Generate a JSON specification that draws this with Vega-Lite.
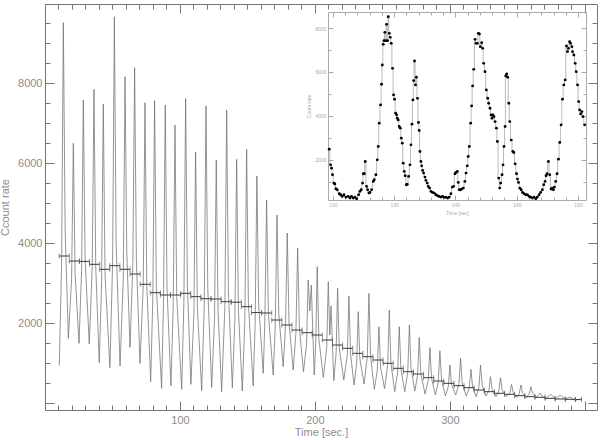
{
  "$schema": "https://vega.github.io/schema/vega-lite/v6.json",
  "width": 552,
  "height": 406,
  "autosize": "none",
  "padding": {"left": 45, "top": 4, "right": 3, "bottom": 30},
  "background": "white",
  "config": {
    "view": {"stroke": null},
    "font": "Liberation Sans",
    "axis": {"grid": false, "domainColor": "#777", "tickColor": "#777", "labelColor": "#8c8c8c", "titleColor": "#8c8c8c", "titleFontWeight": "normal", "labelFont": "Liberation Sans", "titleFont": "Liberation Sans"}
  },
  "datasets": {
    "main": [
      {"t":10.6,"c":933},{"t":12.3,"c":3506},{"t":13.6,"c":9508},{"t":14.9,"c":4379},
      {"t":17.3,"c":1617},{"t":19.7,"c":3080},{"t":21.0,"c":6492},{"t":22.3,"c":3242},
      {"t":25.2,"c":1492},{"t":27.1,"c":3317},{"t":28.4,"c":7575},{"t":29.7,"c":3610},
      {"t":32.8,"c":1475},{"t":35.0,"c":3385},{"t":36.3,"c":7842},{"t":37.6,"c":3400},
      {"t":40.2,"c":1008},{"t":41.9,"c":2948},{"t":43.2,"c":7475},{"t":44.5,"c":3190},
      {"t":48.1,"c":883},{"t":50.1,"c":3516},{"t":51.4,"c":9658},{"t":52.7,"c":3982},
      {"t":55.6,"c":925},{"t":58.0,"c":3095},{"t":59.3,"c":8158},{"t":60.6,"c":3760},
      {"t":63.0,"c":1392},{"t":65.1,"c":3489},{"t":66.4,"c":8383},{"t":67.7,"c":3579},
      {"t":70.4,"c":992},{"t":72.8,"c":2947},{"t":74.1,"c":7508},{"t":75.4,"c":2974},
      {"t":78.3,"c":533},{"t":79.9,"c":2641},{"t":81.2,"c":7558},{"t":82.5,"c":2884},
      {"t":86.4,"c":367},{"t":87.8,"c":2492},{"t":89.1,"c":7450},{"t":90.4,"c":2889},
      {"t":93.3,"c":433},{"t":95.0,"c":2388},{"t":96.3,"c":6950},{"t":97.6,"c":2655},
      {"t":101.3,"c":342},{"t":102.9,"c":2522},{"t":104.2,"c":7608},{"t":105.5,"c":2966},
      {"t":108.1,"c":467},{"t":110.3,"c":2209},{"t":111.6,"c":6275},{"t":112.9,"c":2396},
      {"t":116.1,"c":308},{"t":118.0,"c":2443},{"t":119.3,"c":7425},{"t":120.6,"c":2854},
      {"t":123.5,"c":392},{"t":125.6,"c":2097},{"t":126.9,"c":6075},{"t":128.2,"c":2310},
      {"t":130.9,"c":283},{"t":133.3,"c":2396},{"t":134.6,"c":7325},{"t":135.9,"c":2813},
      {"t":138.8,"c":383},{"t":140.7,"c":2096},{"t":142.0,"c":6092},{"t":143.3,"c":2327},
      {"t":146.2,"c":300},{"t":148.1,"c":2113},{"t":149.4,"c":6342},{"t":150.7,"c":2496},
      {"t":154.3,"c":425},{"t":155.7,"c":2000},{"t":157.0,"c":5675},{"t":158.3,"c":2469},
      {"t":161.7,"c":742},{"t":162.9,"c":2042},{"t":164.2,"c":5075},{"t":165.5,"c":2231},
      {"t":169.1,"c":700},{"t":170.6,"c":1900},{"t":171.9,"c":4700},{"t":173.2,"c":2235},
      {"t":176.5,"c":908},{"t":178.2,"c":1911},{"t":179.5,"c":4250},{"t":180.8,"c":2024},
      {"t":183.9,"c":825},{"t":185.9,"c":1740},{"t":187.2,"c":3875},{"t":188.5,"c":1865},
      {"t":191.5,"c":783},{"t":193.8,"c":1471},{"t":195.0,"c":3075},{"t":196.2,"c":2300},{"t":197.3,"c":2950},
      {"t":199.5,"c":700},{"t":200.6,"c":1512},{"t":201.7,"c":3408},{"t":202.9,"c":1610},
      {"t":206.2,"c":642},{"t":208.7,"c":1359},{"t":209.9,"c":3033},{"t":211.0,"c":1700},{"t":211.9,"c":2425},
      {"t":214.0,"c":558},{"t":215.7,"c":1251},{"t":216.8,"c":2867},{"t":218.0,"c":1377},
      {"t":221.4,"c":575},{"t":224.0,"c":1205},{"t":225.2,"c":2675},{"t":226.4,"c":1229},
      {"t":229.0,"c":450},{"t":230.9,"c":1000},{"t":232.1,"c":2283},{"t":233.3,"c":1108},
      {"t":236.4,"c":475},{"t":238.8,"c":1155},{"t":240.0,"c":2742},{"t":241.2,"c":1182},
      {"t":244.0,"c":342},{"t":246.2,"c":812},{"t":247.4,"c":1908},{"t":248.6,"c":901},
      {"t":251.6,"c":358},{"t":253.9,"c":948},{"t":255.1,"c":2325},{"t":256.3,"c":998},
      {"t":259.1,"c":283},{"t":261.3,"c":771},{"t":262.5,"c":1908},{"t":263.7,"c":852},
      {"t":266.6,"c":283},{"t":268.8,"c":783},{"t":270.0,"c":1950},{"t":271.2,"c":878},
      {"t":274.0,"c":300},{"t":276.1,"c":703},{"t":277.3,"c":1642},{"t":278.5,"c":721},
      {"t":281.6,"c":225},{"t":284.0,"c":572},{"t":285.2,"c":1383},{"t":286.4,"c":614},
      {"t":289.3,"c":200},{"t":291.4,"c":532},{"t":292.6,"c":1308},{"t":293.8,"c":572},
      {"t":296.7,"c":175},{"t":298.8,"c":408},{"t":300.0,"c":950},{"t":301.2,"c":462},
      {"t":304.3,"c":200},{"t":306.7,"c":475},{"t":307.9,"c":1117},{"t":309.1,"c":505},
      {"t":312.1,"c":175},{"t":314.4,"c":375},{"t":315.6,"c":842},{"t":316.8,"c":398},
      {"t":319.5,"c":158},{"t":321.5,"c":396},{"t":322.7,"c":950},{"t":323.9,"c":446},
      {"t":326.8,"c":175},{"t":328.9,"c":320},{"t":330.1,"c":658},{"t":331.3,"c":333},
      {"t":334.2,"c":158},{"t":336.3,"c":301},{"t":337.5,"c":633},{"t":338.7,"c":324},
      {"t":342.0,"c":158},{"t":344.5,"c":251},{"t":345.7,"c":467},{"t":346.9,"c":256},
      {"t":349.5,"c":142},{"t":351.4,"c":234},{"t":352.6,"c":450},{"t":353.8,"c":250},
      {"t":356.7,"c":142},{"t":358.8,"c":222},{"t":360.0,"c":408},{"t":361.2,"c":246},
      {"t":364.0,"c":158},{"t":367.2,"c":242},{"t":368.4,"c":160},
      {"t":371.3,"c":117},{"t":374.6,"c":217},{"t":378.4,"c":100},{"t":381.5,"c":200},
      {"t":385.4,"c":100},{"t":388.9,"c":150},{"t":392.5,"c":75},{"t":397.5,"c":100}
    ],
    "bins": [
      {"t0":10.5,"t1":18,"m":3675},{"t0":18,"t1":25.5,"m":3550},{"t0":25.5,"t1":33,"m":3540},
      {"t0":33,"t1":40.5,"m":3467},{"t0":40.5,"t1":48,"m":3342},{"t0":48,"t1":55.5,"m":3433},
      {"t0":55.5,"t1":63,"m":3342},{"t0":63,"t1":70.5,"m":3225},{"t0":70.5,"t1":78,"m":2967},
      {"t0":78,"t1":85.5,"m":2758},{"t0":85.5,"t1":93,"m":2700},{"t0":93,"t1":100.5,"m":2700},
      {"t0":100.5,"t1":108,"m":2742},{"t0":108,"t1":115.5,"m":2658},{"t0":115.5,"t1":123,"m":2608},
      {"t0":123,"t1":130.5,"m":2600},{"t0":130.5,"t1":138,"m":2533},{"t0":138,"t1":145.5,"m":2520},
      {"t0":145.5,"t1":153,"m":2408},{"t0":153,"t1":160.5,"m":2260},{"t0":160.5,"t1":168,"m":2250},
      {"t0":168,"t1":175.5,"m":2075},{"t0":175.5,"t1":183,"m":1950},{"t0":183,"t1":190.5,"m":1825},
      {"t0":190.5,"t1":198,"m":1758},{"t0":198,"t1":205.5,"m":1700},{"t0":205.5,"t1":213,"m":1575},
      {"t0":213,"t1":220.5,"m":1450},{"t0":220.5,"t1":228,"m":1367},{"t0":228,"t1":235.5,"m":1242},
      {"t0":235.5,"t1":243,"m":1158},{"t0":243,"t1":250.5,"m":1075},{"t0":250.5,"t1":258,"m":992},
      {"t0":258,"t1":265.5,"m":867},{"t0":265.5,"t1":273,"m":783},{"t0":273,"t1":280.5,"m":725},
      {"t0":280.5,"t1":288,"m":633},{"t0":288,"t1":295.5,"m":550},{"t0":295.5,"t1":303,"m":492},
      {"t0":303,"t1":310.5,"m":433},{"t0":310.5,"t1":318,"m":383},{"t0":318,"t1":325.5,"m":325},
      {"t0":325.5,"t1":333,"m":283},{"t0":333,"t1":340.5,"m":242},{"t0":340.5,"t1":348,"m":217},
      {"t0":348,"t1":355.5,"m":183},{"t0":355.5,"t1":363,"m":158},{"t0":363,"t1":370.5,"m":142},
      {"t0":370.5,"t1":378,"m":117},{"t0":378,"t1":385.5,"m":100},{"t0":385.5,"t1":393,"m":92},
      {"t0":393,"t1":397.5,"m":85}
    ],
    "inset": [
      {"t":129.70,"c":2485},{"t":129.81,"c":1773},{"t":129.89,"c":1621},{"t":129.97,"c":1318},
      {"t":130.08,"c":939},{"t":130.16,"c":900},{"t":130.24,"c":682},{"t":130.35,"c":636},
      {"t":130.52,"c":455},{"t":130.63,"c":409},{"t":130.76,"c":333},{"t":130.90,"c":409},
      {"t":131.06,"c":303},{"t":131.25,"c":333},{"t":131.39,"c":258},{"t":131.52,"c":333},
      {"t":131.66,"c":258},{"t":131.80,"c":303},{"t":131.93,"c":227},{"t":132.10,"c":409},
      {"t":132.20,"c":560},{"t":132.31,"c":636},{"t":132.42,"c":939},{"t":132.48,"c":1364},
      {"t":132.56,"c":1364},{"t":132.64,"c":1924},{"t":132.75,"c":788},{"t":132.83,"c":636},
      {"t":132.94,"c":485},{"t":133.02,"c":515},{"t":133.16,"c":636},{"t":133.29,"c":1015},
      {"t":133.37,"c":1091},{"t":133.51,"c":1318},{"t":133.62,"c":2000},{"t":133.70,"c":2606},
      {"t":133.78,"c":3667},{"t":133.89,"c":4500},{"t":133.97,"c":5439},{"t":134.03,"c":6318},
      {"t":134.11,"c":7258},{"t":134.16,"c":7424},{"t":134.24,"c":7803},{"t":134.30,"c":7424},
      {"t":134.38,"c":8167},{"t":134.46,"c":7424},{"t":134.52,"c":8515},{"t":134.60,"c":7758},
      {"t":134.68,"c":7576},{"t":134.76,"c":7303},{"t":134.87,"c":6167},{"t":134.95,"c":4955},
      {"t":135.03,"c":4758},{"t":135.12,"c":4121},{"t":135.20,"c":4045},{"t":135.25,"c":3894},
      {"t":135.33,"c":3818},{"t":135.41,"c":3515},{"t":135.50,"c":3439},{"t":135.58,"c":2985},
      {"t":135.66,"c":2758},{"t":135.74,"c":1848},{"t":135.82,"c":1470},{"t":135.90,"c":1273},
      {"t":135.99,"c":864},{"t":136.07,"c":880},{"t":136.18,"c":1242},{"t":136.29,"c":1773},
      {"t":136.37,"c":2682},{"t":136.45,"c":3621},{"t":136.53,"c":4727},{"t":136.59,"c":5606},
      {"t":136.66,"c":6500},{"t":136.74,"c":5409},{"t":136.81,"c":5758},{"t":136.90,"c":4800},
      {"t":136.98,"c":3700},{"t":137.04,"c":3333},{"t":137.10,"c":2379},{"t":137.18,"c":1924},
      {"t":137.24,"c":1727},{"t":137.32,"c":1515},{"t":137.40,"c":1394},{"t":137.51,"c":1212},
      {"t":137.59,"c":1061},{"t":137.70,"c":939},{"t":137.78,"c":788},{"t":137.89,"c":712},
      {"t":138.00,"c":561},{"t":138.13,"c":515},{"t":138.27,"c":485},{"t":138.40,"c":409},
      {"t":138.54,"c":364},{"t":138.67,"c":333},{"t":138.81,"c":303},{"t":138.95,"c":333},
      {"t":139.08,"c":288},{"t":139.22,"c":303},{"t":139.36,"c":258},{"t":139.49,"c":303},
      {"t":139.63,"c":455},{"t":139.74,"c":758},{"t":139.85,"c":788},{"t":139.96,"c":1364},
      {"t":140.04,"c":1424},{"t":140.15,"c":1470},{"t":140.23,"c":970},{"t":140.31,"c":636},
      {"t":140.42,"c":636},{"t":140.50,"c":667},{"t":140.64,"c":712},{"t":140.77,"c":1015},
      {"t":140.86,"c":1394},{"t":140.96,"c":1727},{"t":141.04,"c":2152},{"t":141.13,"c":2606},
      {"t":141.24,"c":3667},{"t":141.32,"c":4455},{"t":141.40,"c":5364},{"t":141.49,"c":6121},
      {"t":141.60,"c":7485},{"t":141.68,"c":7303},{"t":141.79,"c":7303},{"t":141.87,"c":7758},
      {"t":141.95,"c":7727},{"t":142.03,"c":7152},{"t":142.14,"c":7333},{"t":142.22,"c":7076},
      {"t":142.30,"c":6394},{"t":142.41,"c":6015},{"t":142.52,"c":5182},{"t":142.63,"c":4803},
      {"t":142.71,"c":4576},{"t":142.82,"c":4348},{"t":142.90,"c":4045},{"t":142.98,"c":3894},
      {"t":143.06,"c":4045},{"t":143.14,"c":3970},{"t":143.23,"c":3742},{"t":143.34,"c":3439},
      {"t":143.42,"c":2833},{"t":143.53,"c":1167},{"t":143.61,"c":712},{"t":143.69,"c":939},
      {"t":143.80,"c":1318},{"t":143.88,"c":1773},{"t":143.96,"c":2606},{"t":144.05,"c":3515},
      {"t":144.10,"c":5818},{"t":144.18,"c":5909},{"t":144.26,"c":5758},{"t":144.35,"c":4576},
      {"t":144.43,"c":3742},{"t":144.55,"c":2900},{"t":144.68,"c":2379},{"t":144.76,"c":2333},
      {"t":144.87,"c":1818},{"t":144.98,"c":1364},{"t":145.06,"c":1121},{"t":145.14,"c":970},
      {"t":145.25,"c":712},{"t":145.36,"c":636},{"t":145.47,"c":515},{"t":145.60,"c":455},
      {"t":145.74,"c":409},{"t":145.87,"c":409},{"t":146.01,"c":333},{"t":146.14,"c":303},
      {"t":146.28,"c":258},{"t":146.41,"c":303},{"t":146.55,"c":227},{"t":146.68,"c":303},
      {"t":146.82,"c":409},{"t":146.95,"c":515},{"t":147.09,"c":636},{"t":147.20,"c":864},
      {"t":147.31,"c":1015},{"t":147.39,"c":1273},{"t":147.47,"c":1364},{"t":147.58,"c":1924},
      {"t":147.69,"c":1318},{"t":147.80,"c":667},{"t":147.88,"c":712},{"t":147.99,"c":636},
      {"t":148.07,"c":758},{"t":148.18,"c":1015},{"t":148.29,"c":1364},{"t":148.40,"c":2030},
      {"t":148.51,"c":2788},{"t":148.62,"c":3591},{"t":148.73,"c":4758},{"t":148.84,"c":5409},
      {"t":148.95,"c":5636},{"t":149.06,"c":7182},{"t":149.14,"c":6924},{"t":149.22,"c":7076},
      {"t":149.31,"c":7379},{"t":149.39,"c":7303},{"t":149.50,"c":7152},{"t":149.55,"c":6924},
      {"t":149.66,"c":6773},{"t":149.77,"c":6394},{"t":149.85,"c":6015},{"t":149.96,"c":5409},
      {"t":150.05,"c":4652},{"t":150.13,"c":4273},{"t":150.21,"c":4091},{"t":150.32,"c":4197},
      {"t":150.40,"c":3970},{"t":150.54,"c":3591}
    ]
  },
  "layer": [
    {
      "data": {"name": "main"},
      "mark": {"type": "line", "color": "#707070", "strokeWidth": 0.75},
      "encoding": {
        "x": {"field": "t", "type": "quantitative",
          "scale": {"domain": [0, 409], "nice": false, "zero": false},
          "axis": {"orient": "bottom", "values": [0,10,20,30,40,50,60,70,80,90,100,110,120,130,140,150,160,170,180,190,200,210,220,230,240,250,260,270,280,290,300,310,320,330,340,350,360,370,380,390,400],
            "labelExpr": "(datum.value % 100 === 0 && datum.value > 0 && datum.value < 400) ? datum.label : ''",
            "tickSize": {"condition": {"test": "datum.value % 100 === 0", "value": -9}, "value": -5},
            "labelPadding": 13, "labelFontSize": 11, "labelFlush": false, "labelOverlap": false,
            "labelColor": "#8c8c8c", "titleColor": "#8c8c8c",
            "title": "Time [sec.]", "titleFontSize": 11, "titlePadding": -3}},
        "y": {"field": "c", "type": "quantitative",
          "scale": {"domain": [-175, 9975], "nice": false, "zero": false},
          "axis": {"orient": "left", "values": [0,500,1000,1500,2000,2500,3000,3500,4000,4500,5000,5500,6000,6500,7000,7500,8000,8500,9000,9500],
            "format": "d",
            "labelExpr": "(datum.value % 2000 === 0 && datum.value > 0) ? datum.label : ''",
            "tickSize": {"condition": {"test": "datum.value % 2000 === 0", "value": -9}, "value": -5},
            "labelPadding": 12, "labelFontSize": 11, "labelFlush": false, "labelOverlap": false,
            "labelColor": "#8c8c8c", "titleColor": "#8c8c8c",
            "title": "Ccount rate", "titleFontSize": 11, "titlePadding": 7}}
      }
    },
    {
      "data": {"name": "bins"},
      "mark": {"type": "rule", "color": "#3a3a3a", "strokeWidth": 1},
      "encoding": {
        "x": {"field": "t0", "type": "quantitative",
          "scale": {"domain": [0, 409], "nice": false, "zero": false},
          "axis": {"orient": "top", "values": [0,10,20,30,40,50,60,70,80,90,100,110,120,130,140,150,160,170,180,190,200,210,220,230,240,250,260,270,280,290,300,310,320,330,340,350,360,370,380,390,400],
            "labels": false, "title": null,
            "tickSize": {"condition": {"test": "datum.value % 100 === 0", "value": -9}, "value": -5}}},
        "x2": {"field": "t1"},
        "y": {"field": "m", "type": "quantitative",
          "scale": {"domain": [-175, 9975], "nice": false, "zero": false},
          "axis": {"orient": "right", "values": [0,500,1000,1500,2000,2500,3000,3500,4000,4500,5000,5500,6000,6500,7000,7500,8000,8500,9000,9500],
            "labels": false, "title": null,
            "tickSize": {"condition": {"test": "datum.value % 2000 === 0", "value": -9}, "value": -5}}}
      }
    },
    {
      "data": {"name": "bins"},
      "mark": {"type": "tick", "orient": "vertical", "size": 5, "thickness": 1, "color": "#555"},
      "encoding": {
        "x": {"field": "t0", "type": "quantitative", "scale": {"domain": [0, 409], "nice": false, "zero": false}, "axis": null},
        "y": {"field": "m", "type": "quantitative", "scale": {"domain": [-175, 9975], "nice": false, "zero": false}, "axis": null}
      }
    },
    {
      "data": {"name": "bins"},
      "mark": {"type": "tick", "orient": "vertical", "size": 5, "thickness": 1, "color": "#555"},
      "encoding": {
        "x": {"field": "t1", "type": "quantitative", "scale": {"domain": [0, 409], "nice": false, "zero": false}, "axis": null},
        "y": {"field": "m", "type": "quantitative", "scale": {"domain": [-175, 9975], "nice": false, "zero": false}, "axis": null}
      }
    },
    {
      "data": {"name": "inset"},
      "mark": {"type": "line", "interpolate": "step", "color": "#aaa", "strokeWidth": 0.8},
      "encoding": {
        "x": {"field": "t", "type": "quantitative",
          "scale": {"domain": [129.6, 150.65], "range": [283, 541], "nice": false, "zero": false},
          "axis": {"orient": "bottom", "offset": -210, "values": [130,131,132,133,134,135,136,137,138,139,140,141,142,143,144,145,146,147,148,149,150],
            "labelExpr": "datum.value % 5 === 0 ? datum.label : ''",
            "tickSize": {"condition": {"test": "datum.value % 5 === 0", "value": -5}, "value": -3},
            "domainColor": "#aaa", "tickColor": "#aaa", "labelColor": "#aaa", "titleColor": "#aaa",
            "labelPadding": 7, "labelFontSize": 5, "labelFlush": false, "labelOverlap": false,
            "title": "Time [sec]", "titleFontSize": 5, "titlePadding": 1}},
        "y": {"field": "c", "type": "quantitative",
          "scale": {"domain": [170, 8730], "range": [196, 8], "nice": false, "zero": false},
          "axis": {"orient": "left", "offset": -283, "values": [1000,2000,3000,4000,5000,6000,7000,8000],
            "format": "d",
            "labelExpr": "datum.value % 2000 === 0 ? datum.label : ''",
            "tickSize": {"condition": {"test": "datum.value % 2000 === 0", "value": -5}, "value": -3},
            "domainColor": "#aaa", "tickColor": "#aaa", "labelColor": "#aaa", "titleColor": "#aaa",
            "labelPadding": 7, "labelFontSize": 5, "labelFlush": false, "labelOverlap": false,
            "title": "Count rate", "titleFontSize": 5, "titlePadding": 3}}
      }
    },
    {
      "data": {"name": "inset"},
      "mark": {"type": "circle", "color": "#000", "size": 8, "opacity": 1},
      "encoding": {
        "x": {"field": "t", "type": "quantitative",
          "scale": {"domain": [129.6, 150.65], "range": [283, 541], "nice": false, "zero": false},
          "axis": {"orient": "top", "offset": -8, "values": [130,131,132,133,134,135,136,137,138,139,140,141,142,143,144,145,146,147,148,149,150],
            "labels": false, "title": null, "domainColor": "#aaa", "tickColor": "#aaa",
            "tickSize": {"condition": {"test": "datum.value % 5 === 0", "value": -5}, "value": -3}}},
        "y": {"field": "c", "type": "quantitative",
          "scale": {"domain": [170, 8730], "range": [196, 8], "nice": false, "zero": false},
          "axis": {"orient": "right", "offset": -11, "values": [1000,2000,3000,4000,5000,6000,7000,8000],
            "labels": false, "title": null, "domainColor": "#aaa", "tickColor": "#aaa",
            "tickSize": {"condition": {"test": "datum.value % 2000 === 0", "value": -5}, "value": -3}}}
      }
    }
  ],
  "resolve": {
    "scale": {"x": "independent", "y": "independent"},
    "axis": {"x": "independent", "y": "independent"}
  }
}
